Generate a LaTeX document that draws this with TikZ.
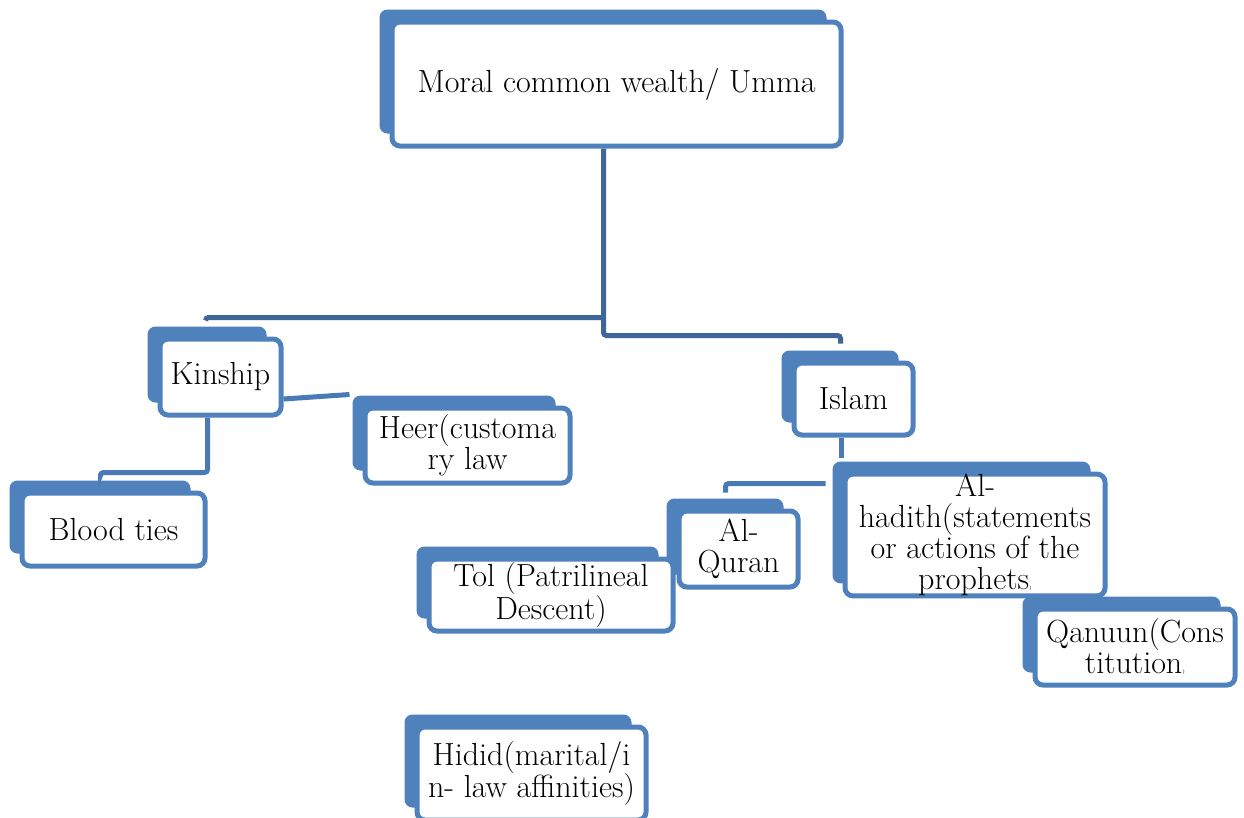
\documentclass[tikz,border=0pt]{standalone}
\usepackage{tikz}
\usetikzlibrary{backgrounds}

\definecolor{boxblue}{HTML}{4F81BD}
\definecolor{linkdark}{HTML}{3F6699}
\definecolor{linkblue}{HTML}{4A7AB6}

\tikzset{
  frontbox/.style={draw=boxblue, line width=5pt, fill=white, rounded corners=8pt,
    align=center, inner sep=0pt, font=\fontsize{32}{31}\selectfont},
  link/.style={draw=linkblue, line width=5pt, rounded corners=3pt},
  linkd/.style={link, draw=linkdark}
}
\newcommand{\backbox}[1]{\fill[boxblue,rounded corners=8pt]
  ([shift={(-10pt,10pt)}]#1.north west) rectangle ([shift={(-17pt,15pt)}]#1.south east);}

\begin{document}
\begin{tikzpicture}[x=1pt,y=-1pt]
  \useasboundingbox (0,0) rectangle (1244,817);

  \node[frontbox, minimum width=449pt, minimum height=124pt] (umma) at (616.5,84) {Moral common wealth/ Umma};
  \node[frontbox, minimum width=121pt, minimum height=76pt] (kinship) at (220.5,377) {Kinship};
  \node[frontbox, minimum width=205pt, minimum height=75pt] (heer) at (467.5,445.5) {Heer(customa\\ry law};
  \node[frontbox, minimum width=183pt, minimum height=73pt] (blood) at (113.5,529.5) {Blood ties};
  \node[frontbox, minimum width=119pt, minimum height=72pt] (islam) at (853.5,399) {Islam};
  \node[frontbox, minimum width=119pt, minimum height=76pt] (quran) at (738.5,549) {Al-\\Quran};
  \node[frontbox, minimum width=244pt, minimum height=72pt] (tol) at (551,595) {Tol (Patrilineal\\Descent)};
  \node[frontbox, minimum width=260pt, minimum height=120pt] (hadith) at (975,535)
    {Al-\\hadith(statements\\or actions of the\\prophets{\tiny)}};
  \node[frontbox, minimum width=200pt, minimum height=76pt] (qanuun) at (1135,647) {Qanuun(Cons\\titution{\tiny)}};
  \node[frontbox, minimum width=229pt, minimum height=93pt] (hidid) at (531.5,773.5) {Hidid(marital/i\\n- law affinities)};

  \begin{pgfonlayer}{background}
    \fill[white] (0,0) rectangle (1244,817);
    \backbox{umma}
    \backbox{kinship}
    \backbox{heer}
    \backbox{blood}
    \backbox{islam}
    \backbox{quran}
    \backbox{tol}
    \backbox{hadith}
    \backbox{qanuun}
    \backbox{hidid}

    \draw[linkd] ([xshift=-13pt]umma.south) |- ([xshift=-13pt,yshift=25pt]islam.north)
      -- ([xshift=-13pt,yshift=17pt]islam.north);
    \draw[linkd] ([xshift=-13pt,yshift=-169pt]umma.south) -| ([xshift=-15pt,yshift=16pt]kinship.north);
    \draw[link] ([xshift=-13pt]kinship.south) -- ++(0,55) -| ([xshift=-13pt,yshift=17pt]blood.north);
    \draw[link, rounded corners=0pt] ([yshift=-22pt]kinship.east) -- ([xshift=-13pt,yshift=11pt]heer.north west);
    \draw[link] ([xshift=-12pt]islam.south) -- ([xshift=-12pt,yshift=-20pt]islam.south);
    \draw[link] ([xshift=-17pt,yshift=-12pt]hadith.north west) -| ([xshift=-13pt,yshift=16pt]quran.north);
  \end{pgfonlayer}
\end{tikzpicture}
\end{document}
